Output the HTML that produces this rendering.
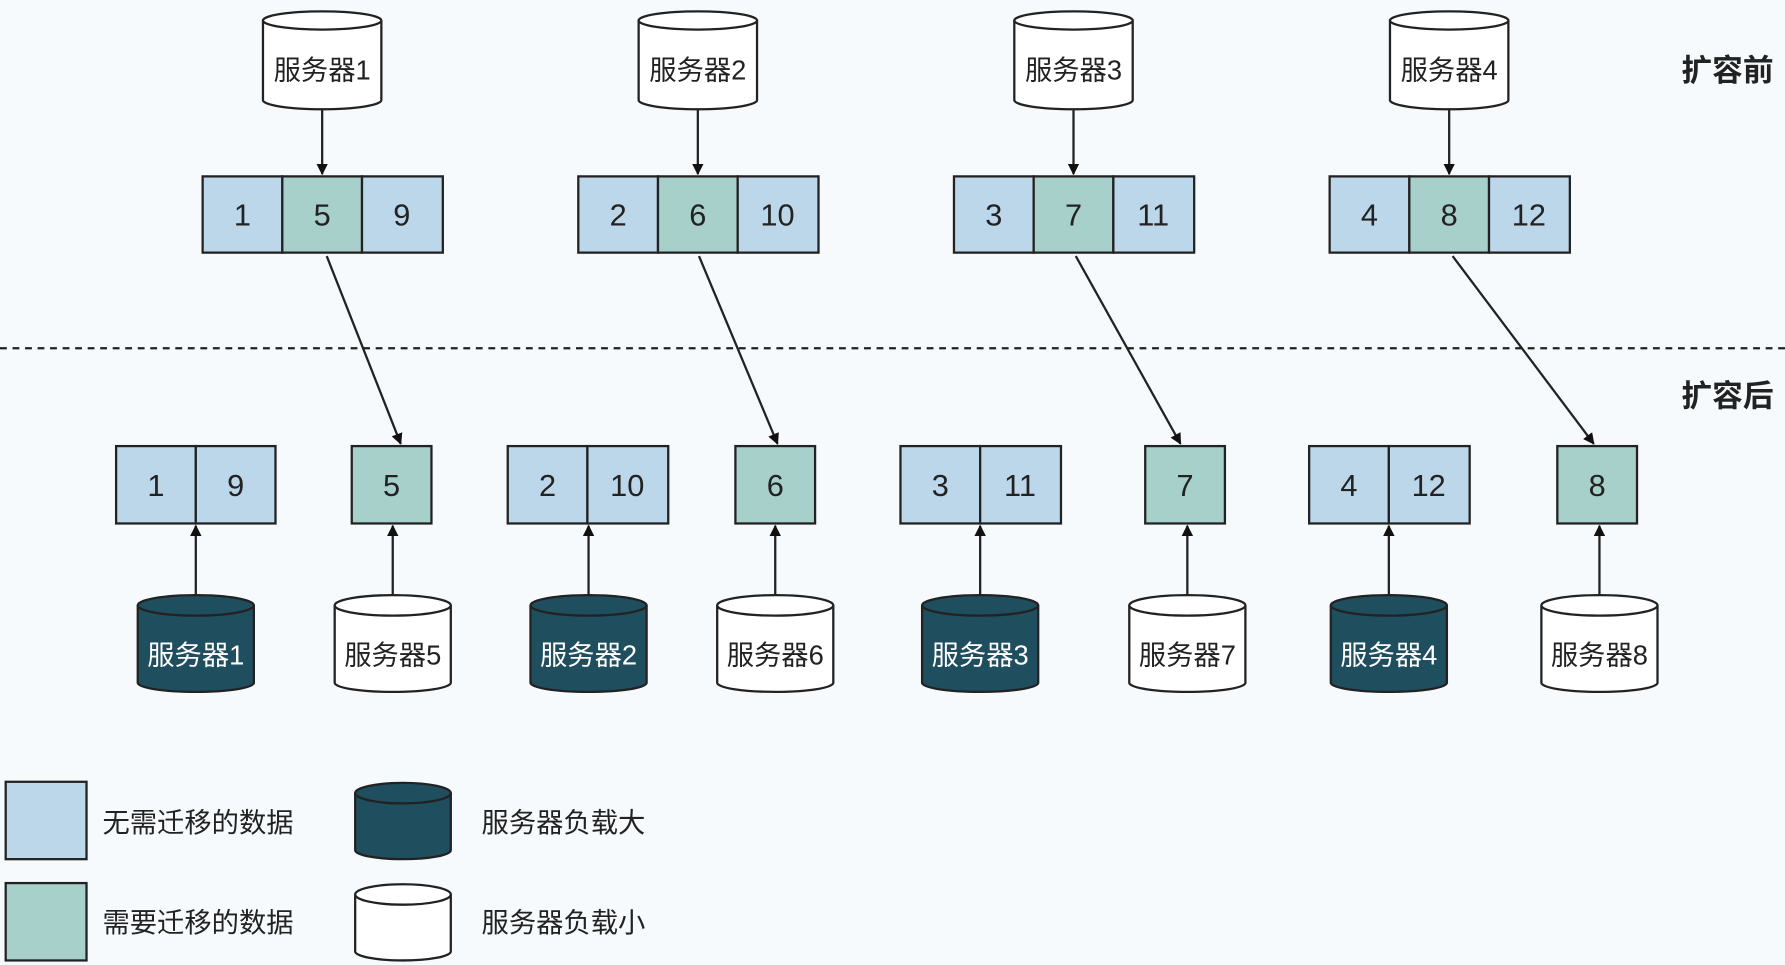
<!DOCTYPE html>
<html><head><meta charset="utf-8"><style>
html,body{margin:0;padding:0;background:#f6fafc;}
svg{display:block}
text{font-family:"Liberation Sans","Noto Sans CJK SC",sans-serif;fill:#222;}
</style></head><body>
<svg width="1785" height="965" viewBox="0 0 1568 848" preserveAspectRatio="none" xmlns="http://www.w3.org/2000/svg">
<defs><marker id="a" markerWidth="10" markerHeight="10" refX="9" refY="5" orient="auto" markerUnits="userSpaceOnUse"><path d="M0,0 L10,5 L0,10 z" fill="#111"/></marker></defs>
<rect width="1568" height="848" fill="#f6fafc"/>
<g stroke="#222" stroke-width="2">
<g fill="#fff">
<path d="M231,18 v70 a52,8 0 0 0 104,0 v-70"/><ellipse cx="283" cy="18" rx="52" ry="8"/>
<path d="M561,18 v70 a52,8 0 0 0 104,0 v-70"/><ellipse cx="613" cy="18" rx="52" ry="8"/>
<path d="M891,18 v70 a52,8 0 0 0 104,0 v-70"/><ellipse cx="943" cy="18" rx="52" ry="8"/>
<path d="M1221,18 v70 a52,8 0 0 0 104,0 v-70"/><ellipse cx="1273" cy="18" rx="52" ry="8"/>
</g>
<line x1="283" y1="96" x2="283" y2="153" marker-end="url(#a)"/>
<line x1="613" y1="96" x2="613" y2="153" marker-end="url(#a)"/>
<line x1="943" y1="96" x2="943" y2="153" marker-end="url(#a)"/>
<line x1="1273" y1="96" x2="1273" y2="153" marker-end="url(#a)"/>
<rect x="178" y="155" width="70" height="67" fill="#bcd7ea"/><rect x="248" y="155" width="70" height="67" fill="#a8d0cb"/><rect x="318" y="155" width="71" height="67" fill="#bcd7ea"/>
<rect x="508" y="155" width="70" height="67" fill="#bcd7ea"/><rect x="578" y="155" width="70" height="67" fill="#a8d0cb"/><rect x="648" y="155" width="71" height="67" fill="#bcd7ea"/>
<rect x="838" y="155" width="70" height="67" fill="#bcd7ea"/><rect x="908" y="155" width="70" height="67" fill="#a8d0cb"/><rect x="978" y="155" width="71" height="67" fill="#bcd7ea"/>
<rect x="1168" y="155" width="70" height="67" fill="#bcd7ea"/><rect x="1238" y="155" width="70" height="67" fill="#a8d0cb"/><rect x="1308" y="155" width="71" height="67" fill="#bcd7ea"/>
<line x1="287" y1="225" x2="352" y2="390" marker-end="url(#a)"/>
<line x1="614" y1="225" x2="683" y2="390" marker-end="url(#a)"/>
<line x1="945" y1="225" x2="1037" y2="390" marker-end="url(#a)"/>
<line x1="1276" y1="225" x2="1400" y2="390" marker-end="url(#a)"/>
<line x1="0" y1="306" x2="1568" y2="306" stroke-dasharray="6,5"/>
<rect x="102" y="392" width="70" height="68" fill="#bcd7ea"/><rect x="172" y="392" width="70" height="68" fill="#bcd7ea"/><rect x="309" y="392" width="70" height="68" fill="#a8d0cb"/>
<rect x="446" y="392" width="70" height="68" fill="#bcd7ea"/><rect x="516" y="392" width="71" height="68" fill="#bcd7ea"/><rect x="646" y="392" width="70" height="68" fill="#a8d0cb"/>
<rect x="791" y="392" width="70" height="68" fill="#bcd7ea"/><rect x="861" y="392" width="71" height="68" fill="#bcd7ea"/><rect x="1006" y="392" width="70" height="68" fill="#a8d0cb"/>
<rect x="1150" y="392" width="70" height="68" fill="#bcd7ea"/><rect x="1220" y="392" width="71" height="68" fill="#bcd7ea"/><rect x="1368" y="392" width="70" height="68" fill="#a8d0cb"/>
<line x1="172" y1="522" x2="172" y2="462" marker-end="url(#a)"/>
<line x1="345" y1="522" x2="345" y2="462" marker-end="url(#a)"/>
<line x1="517" y1="522" x2="517" y2="462" marker-end="url(#a)"/>
<line x1="681" y1="522" x2="681" y2="462" marker-end="url(#a)"/>
<line x1="861" y1="522" x2="861" y2="462" marker-end="url(#a)"/>
<line x1="1043" y1="522" x2="1043" y2="462" marker-end="url(#a)"/>
<line x1="1220" y1="522" x2="1220" y2="462" marker-end="url(#a)"/>
<line x1="1405" y1="522" x2="1405" y2="462" marker-end="url(#a)"/>
<g fill="#1f4e5f">
<path d="M121,532 v68 a51,8 0 0 0 102,0 v-68"/><ellipse cx="172" cy="532" rx="51" ry="9"/>
<path d="M466,532 v68 a51,8 0 0 0 102,0 v-68"/><ellipse cx="517" cy="532" rx="51" ry="9"/>
<path d="M810,532 v68 a51,8 0 0 0 102,0 v-68"/><ellipse cx="861" cy="532" rx="51" ry="9"/>
<path d="M1169,532 v68 a51,8 0 0 0 102,0 v-68"/><ellipse cx="1220" cy="532" rx="51" ry="9"/>
<path d="M312,697 v50 a42,8 0 0 0 84,0 v-50"/><ellipse cx="354" cy="697" rx="42" ry="9"/>
</g>
<g fill="#fff">
<path d="M294,532 v68 a51,8 0 0 0 102,0 v-68"/><ellipse cx="345" cy="532" rx="51" ry="9"/>
<path d="M630,532 v68 a51,8 0 0 0 102,0 v-68"/><ellipse cx="681" cy="532" rx="51" ry="9"/>
<path d="M992,532 v68 a51,8 0 0 0 102,0 v-68"/><ellipse cx="1043" cy="532" rx="51" ry="9"/>
<path d="M1354,532 v68 a51,8 0 0 0 102,0 v-68"/><ellipse cx="1405" cy="532" rx="51" ry="9"/>
<path d="M312,786 v50 a42,8 0 0 0 84,0 v-50"/><ellipse cx="354" cy="786" rx="42" ry="9"/>
</g>
<rect x="5" y="687" width="71" height="68" fill="#bcd7ea"/>
<rect x="5" y="776" width="71" height="68" fill="#a8d0cb"/>
</g>
<g font-size="24" text-anchor="middle">
<text x="283" y="70">服务器1</text><text x="613" y="70">服务器2</text><text x="943" y="70">服务器3</text><text x="1273" y="70">服务器4</text>
<g font-size="27">
<text x="213" y="198">1</text><text x="283" y="198">5</text><text x="353" y="198">9</text>
<text x="543" y="198">2</text><text x="613" y="198">6</text><text x="683" y="198">10</text>
<text x="873" y="198">3</text><text x="943" y="198">7</text><text x="1013" y="198">11</text>
<text x="1203" y="198">4</text><text x="1273" y="198">8</text><text x="1343" y="198">12</text>
<text x="137" y="436">1</text><text x="207" y="436">9</text><text x="344" y="436">5</text>
<text x="481" y="436">2</text><text x="551" y="436">10</text><text x="681" y="436">6</text>
<text x="826" y="436">3</text><text x="896" y="436">11</text><text x="1041" y="436">7</text>
<text x="1185" y="436">4</text><text x="1255" y="436">12</text><text x="1403" y="436">8</text>
</g>
<text x="172" y="584" style="fill:#fff">服务器1</text><text x="517" y="584" style="fill:#fff">服务器2</text><text x="861" y="584" style="fill:#fff">服务器3</text><text x="1220" y="584" style="fill:#fff">服务器4</text>
<text x="345" y="584">服务器5</text><text x="681" y="584">服务器6</text><text x="1043" y="584">服务器7</text><text x="1405" y="584">服务器8</text>
</g>
<g font-size="27" font-weight="bold" text-anchor="end"><text x="1558" y="71">扩容前</text><text x="1558" y="357">扩容后</text></g>
<g font-size="24"><text x="90" y="731">无需迁移的数据</text><text x="90" y="819">需要迁移的数据</text><text x="423" y="731">服务器负载大</text><text x="423" y="819">服务器负载小</text></g>
</svg>
</body></html>
